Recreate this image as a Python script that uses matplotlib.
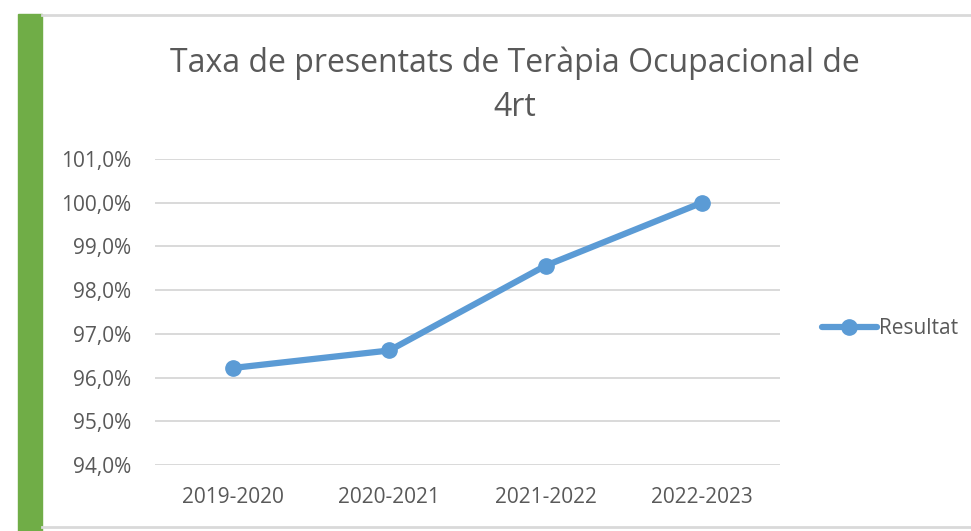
import matplotlib.pyplot as plt
from matplotlib.patches import Rectangle
from matplotlib.lines import Line2D

# Data
years = ["2019-2020", "2020-2021", "2021-2022", "2022-2023"]
resultat = [96.22, 96.62, 98.56, 100.0]
y_ticks = [94, 95, 96, 97, 98, 99, 100, 101]

plt.rcParams['font.family'] = ['Open Sans', 'DejaVu Sans']
text_color = "#595959"
line_color = "#5B9BD5"

fig = plt.figure(figsize=(9.71, 5.31), dpi=100)

# Card frame: green bar on the left, light borders
fig.patches.append(Rectangle((18 / 971, 0), 24 / 971, 1 - 14 / 531,
                             transform=fig.transFigure, color="#70AD47", zorder=0))
fig.add_artist(Line2D([42 / 971, 1], [1 - 15 / 531, 1 - 15 / 531],
                      transform=fig.transFigure, color="#D9D9D9", lw=2))
fig.add_artist(Line2D([42 / 971, 1], [1 - 527 / 531, 1 - 527 / 531],
                      transform=fig.transFigure, color="#D9D9D9", lw=2))

ax = fig.add_axes([155 / 971, 1 - 465 / 531, 625 / 971, 306 / 531])
x = range(len(years))
ax.plot(x, resultat, color=line_color, lw=4.5, marker="o", markersize=11,
        solid_capstyle="round", label="Resultat", zorder=3)

ax.set_xlim(-0.5, len(years) - 0.5)
ax.set_ylim(94, 101)
ax.set_yticks(y_ticks)
ax.set_yticklabels(["{:.1f}%".format(v).replace(".", ",") for v in y_ticks])
ax.set_xticks(list(x))
ax.set_xticklabels(years)
ax.grid(axis="y", color="#D9D9D9", lw=1.4)
ax.set_axisbelow(True)
for s in ax.spines.values():
    s.set_visible(False)
ax.tick_params(length=0, labelsize=15, colors=text_color)
ax.tick_params(axis="y", pad=17)
ax.tick_params(axis="x", pad=16)

fig.text(515 / 971, 1 - 85 / 531, "Taxa de presentats de Teràpia Ocupacional de\n4rt",
         ha="center", va="center", fontsize=23, color=text_color, linespacing=1.45)

ax.legend(loc="center left", bbox_to_anchor=(814 / 625 - 155 / 625, (465 - 329) / 306),
          frameon=False, fontsize=15, labelcolor=text_color, handlelength=2.6,
          handletextpad=0.1, borderaxespad=0)

fig.savefig("out.png", dpi=100)
